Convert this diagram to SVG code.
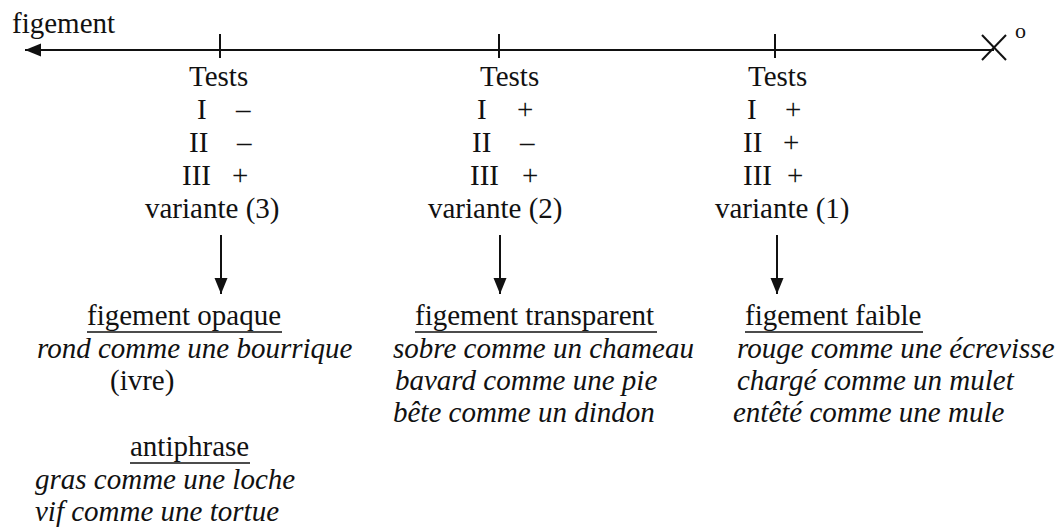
<svg xmlns="http://www.w3.org/2000/svg" width="1062" height="529" viewBox="0 0 1062 529">
<style>
text{font-family:"Liberation Serif","Times New Roman",serif;font-size:29px;fill:#111}
.it{font-style:italic}
.sm{font-size:22px}
.ln{stroke:#111;stroke-width:2;fill:none}
.ul{stroke:#111;stroke-width:1.5}
</style>
<defs>
<marker id="ah" markerUnits="userSpaceOnUse" markerWidth="16" markerHeight="14" refX="16" refY="6.5" orient="auto">
<path d="M0,0 L16,6.5 L0,13 Z" fill="#111"/>
</marker>
</defs>
<rect width="1062" height="529" fill="#fff"/>
<g id="axis">
<line class="ln" x1="994" y1="50" x2="25" y2="50" marker-end="url(#ah)"/>
<line class="ln" x1="220" y1="34" x2="220" y2="58"/>
<line class="ln" x1="499" y1="34" x2="499" y2="58"/>
<line class="ln" x1="775" y1="34" x2="775" y2="58"/>
<line class="ln" x1="982" y1="35" x2="1006" y2="60"/>
<line class="ln" x1="982" y1="60" x2="1006" y2="35"/>
<text x="12" y="33">figement</text>
<text class="sm" x="1015" y="38">o</text>
</g>
<g id="connectors">
<line class="ln" x1="221" y1="235" x2="221" y2="294" marker-end="url(#ah)"/>
<line class="ln" x1="500" y1="235" x2="500" y2="294" marker-end="url(#ah)"/>
<line class="ln" x1="777" y1="235" x2="777" y2="294" marker-end="url(#ah)"/>
</g>
<g id="tests1">
<text x="189" y="86">Tests</text>
<text x="197" y="119">I</text><text x="236" y="119">–</text>
<text x="189" y="152">II</text><text x="237" y="152">–</text>
<text x="182" y="185">III</text><text x="232" y="185">+</text>
<text x="145" y="218">variante (3)</text>
</g>
<g id="tests2">
<text x="480" y="86">Tests</text>
<text x="477" y="119">I</text><text x="517" y="119">+</text>
<text x="472" y="152">II</text><text x="520" y="152">–</text>
<text x="470" y="185">III</text><text x="522" y="185">+</text>
<text x="428" y="218">variante (2)</text>
</g>
<g id="tests3">
<text x="748" y="86">Tests</text>
<text x="747" y="119">I</text><text x="785" y="119">+</text>
<text x="743" y="152">II</text><text x="783" y="152">+</text>
<text x="743" y="185">III</text><text x="787" y="185">+</text>
<text x="715" y="218">variante (1)</text>
</g>
<g id="opaque">
<text x="87" y="325">figement opaque</text>
<line class="ul" x1="87" y1="332" x2="282" y2="332"/>
<text class="it" x="37" y="358">rond comme une bourrique</text>
<text x="110" y="390">(ivre)</text>
</g>
<g id="antiphrase">
<text x="130" y="456">antiphrase</text>
<line class="ul" x1="130" y1="463" x2="250" y2="463"/>
<text class="it" x="35" y="489">gras comme une loche</text>
<text class="it" x="35" y="521">vif comme une tortue</text>
</g>
<g id="transparent">
<text x="415" y="325">figement transparent</text>
<line class="ul" x1="415" y1="332" x2="657" y2="332"/>
<text class="it" x="393" y="358">sobre comme un chameau</text>
<text class="it" x="395" y="390">bavard comme une pie</text>
<text class="it" x="393" y="422">bête comme un dindon</text>
</g>
<g id="faible">
<text x="745" y="325">figement faible</text>
<line class="ul" x1="745" y1="332" x2="923" y2="332"/>
<text class="it" x="737" y="358">rouge comme une écrevisse</text>
<text class="it" x="737" y="390">chargé comme un mulet</text>
<text class="it" x="733" y="422">entêté comme une mule</text>
</g>
</svg>
